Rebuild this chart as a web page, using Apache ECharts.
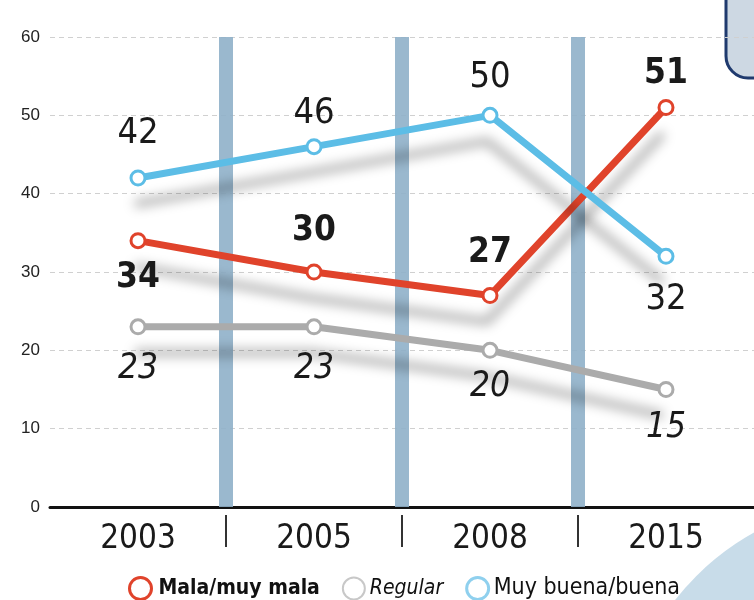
<!DOCTYPE html>
<html><head><meta charset="utf-8">
<script src="https://cdn.jsdelivr.net/npm/echarts@6/dist/echarts.min.js"></script>
<style>html,body{margin:0;padding:0;background:#fff}#c{width:754px;height:600px}</style>
</head><body><div id="c"></div>
<script>
var categories = ['2003', '2005', '2008', '2015'];
var yTicks = [0, 10, 20, 30, 40, 50, 60];
var malaValues = [34, 30, 27, 51];
var regularValues = [23, 23, 20, 15];
var buenaValues = [42, 46, 50, 32];
var seriesNames = ['Mala/muy mala', 'Regular', 'Muy buena/buena'];

var malaPos = [['bottom', 11], ['top', 15], ['top', 17], ['top', 8]];
var regularPos = [['bottom', 16], ['bottom', 16], ['bottom', 11], ['bottom', 12]];
var buenaPos = [['top', 18], ['top', 7], ['top', 11], ['bottom', 17]];

var NARROW = "'Liberation Sans Narrow', 'DejaVu Sans Condensed', 'Liberation Sans', sans-serif";
var RED = '#e0432b', GRAY = '#ababab', BLUE = '#5cbde6';

function build(values, pos) {
  return values.map(function (v, i) {
    return { value: v, label: { position: pos[i][0], distance: pos[i][1] } };
  });
}
function lineSeries(name, values, pos, color, labelStyle) {
  return {
    name: name, type: 'line', xAxisIndex: 0, yAxisIndex: 0, z: 5,
    data: build(values, pos),
    symbol: 'circle', symbolSize: 14,
    itemStyle: { color: '#fff', borderColor: color, borderWidth: 3 },
    lineStyle: { color: color, width: 7, shadowColor: 'rgba(0,0,0,0.34)', shadowBlur: 12, shadowOffsetY: 26, shadowOffsetX: -3 },
    label: Object.assign({ show: true, fontFamily: NARROW, color: '#1a1a1a' }, labelStyle),
    emphasis: { disabled: true }
  };
}

var chart = echarts.init(document.getElementById('c'), null, { renderer: 'canvas' });
chart.setOption({
  animation: false,
  backgroundColor: '#fff',
  grid: { left: 50, right: 0, top: 37, bottom: 93, containLabel: false },
  graphic: [
    { type: 'circle', z: -10, shape: { cx: 880, cy: 760, r: 260 }, style: { fill: '#c8dce9' } },
    { type: 'rect', z: -10, shape: { x: 726, y: -40, width: 70, height: 118, r: 22 },
      style: { fill: '#cdd8e3', stroke: '#1f3a6e', lineWidth: 3 } }
  ],
  legend: {
    top: 571, left: 123,
    itemWidth: 22, itemHeight: 22, itemGap: 22,
    icon: 'circle',
    data: [
      { name: seriesNames[0], itemStyle: { color: '#fff', borderColor: RED, borderWidth: 3 } },
      { name: seriesNames[1], itemStyle: { color: '#fff', borderColor: '#c8c8c8', borderWidth: 2 } },
      { name: seriesNames[2], itemStyle: { color: '#fff', borderColor: '#8fd0ee', borderWidth: 3 } }
    ],
    formatter: function (n) {
      if (n === seriesNames[0]) return '{b|' + n + '}';
      if (n === seriesNames[1]) return '{i|' + n + '}';
      return '{n|' + n + '}';
    },
    textStyle: {
      rich: {
        b: { fontFamily: NARROW, fontSize: 21, fontWeight: 'bold', color: '#111', padding: [0, 0, 0, 2] },
        i: { fontFamily: NARROW, fontSize: 21, fontStyle: 'italic', color: '#111' },
        n: { fontFamily: NARROW, fontSize: 23, color: '#111', fontWeight: 500 }
      }
    }
  },
  xAxis: [
    {
      type: 'category', data: categories, boundaryGap: true,
      axisLine: { show: true, lineStyle: { color: '#111', width: 3 } },
      axisTick: { show: false },
      axisLabel: { fontFamily: NARROW, fontSize: 33, color: '#1a1a1a', margin: 16 },
      splitLine: { show: false }
    },
    {
      type: 'value', min: 0, max: 4, interval: 1, position: 'bottom', offset: 8,
      axisLine: { show: false },
      axisTick: { show: true, length: 32, customValues: [1, 2, 3], lineStyle: { color: '#333', width: 2 } },
      axisLabel: { show: false },
      splitLine: { show: false }
    }
  ],
  yAxis: {
    type: 'value', min: 0, max: 60, interval: 10,
    axisLine: { show: false }, axisTick: { show: false },
    axisLabel: { fontFamily: "'Liberation Sans', sans-serif", fontSize: 17, color: '#222', margin: 10,
      fontWeight: 500, customValues: yTicks },
    splitLine: { lineStyle: { color: '#d0d0d0', type: [5, 4], width: 1 } }
  },
  series: [
    {
      type: 'line', xAxisIndex: 1, yAxisIndex: 0, data: [], z: 1, silent: true,
      markLine: {
        silent: true, symbol: 'none', label: { show: false },
        lineStyle: { color: '#8fb0c9', width: 14, type: 'solid', opacity: 0.9 },
        data: [{ xAxis: 1 }, { xAxis: 2 }, { xAxis: 3 }]
      }
    },
    lineSeries(seriesNames[0], malaValues, malaPos, RED, { fontSize: 35, fontWeight: 'bold' }),
    lineSeries(seriesNames[1], regularValues, regularPos, GRAY, { fontSize: 35, fontStyle: 'italic' }),
    lineSeries(seriesNames[2], buenaValues, buenaPos, BLUE, { fontSize: 36 })
  ]
});
</script></body></html>
